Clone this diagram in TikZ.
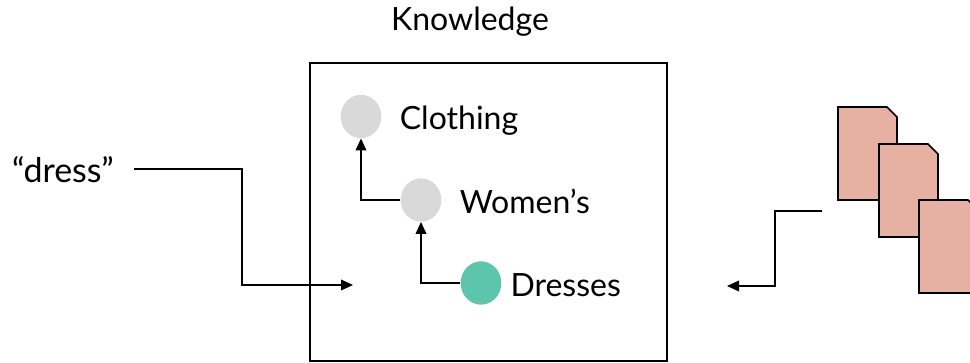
\documentclass[tikz,border=0pt]{standalone}
\usepackage{fontspec}
\setmainfont{Lato}
\usepackage{xcolor}
\usetikzlibrary{shapes.geometric, arrows.meta, positioning}
\definecolor{docpink}{HTML}{E6B0A3}
\definecolor{leafgreen}{HTML}{5DC5AB}
\definecolor{nodegray}{HTML}{D9D9D9}

\begin{document}
\begin{tikzpicture}[
    x=0.75pt, y=-0.75pt,
    % Style for the category circles
    catnode/.style={
      ellipse,
      fill=nodegray,
      inner sep=0pt,
      minimum width=30.5pt,
      minimum height=32.5pt
    },
    % Style for the texts
    labeltext/.style={
      inner sep=0pt,
      text height=20pt,
      text depth=0pt,
      font=\fontsize{24}{28}\selectfont
    },
    % Style for the arrows
    flowline/.style={
      -{Triangle[length=9pt,width=8pt]},
      line width=1.1pt
    },
    docsheet/.style={
      draw=black,
      fill=docpink,
      line width=1.3pt,
      line join=miter
    }
  ]
  \clip (0,0) rectangle (970,363);

  % --- KNOWLEDGE BOX ---
  \node[labeltext] (knowledge) at (470,17) {Knowledge};
  \node[draw=black, line width=1.1pt, minimum width=267.75pt, minimum height=223.5pt, inner sep=0pt] (kbox) at (488.5,212) {};

  % --- CATEGORY NODES ---
  \node[catnode] (clothing) at (361,116.5) {};
  \node[labeltext, right=13.5pt of clothing] (clothinglabel) {Clothing};

  \node[catnode] (womens) at (421,200) {};
  \node[labeltext, right=13.5pt of womens] (womenslabel) {Women’s};

  \node[catnode, fill=leafgreen] (dresses) at (481,283) {};
  \node[labeltext, right=6.5pt of dresses] (dresseslabel) {Dresses};

  % --- QUERY ---
  \node[labeltext, font=\fontsize{25.5}{28}\selectfont] (dress) at (63,169) {“dress”};
  \coordinate (dressbend) at (242,169);
  \coordinate (dressend) at (353,285);

  % --- DOCUMENTS ---
  \draw[docsheet] (838,107) -- (887,107) -- (897,117) -- (897,200) -- (838,200) -- cycle;
  \draw[docsheet] (879,144) -- (928,144) -- (938,154) -- (938,237) -- (879,237) -- cycle;
  \draw[docsheet] (919,200) -- (968,200) -- (978,210) -- (978,293) -- (919,293) -- cycle;
  \coordinate (docsstart) at (822,211);
  \coordinate (docsbend) at (775,211);
  \coordinate (docsend) at (727,286);

  % --- ARROWS ---
  \draw[flowline] (womens) -| (clothing);
  \draw[flowline] (dresses) -| (womens);
  \draw[flowline, shorten <=15pt] (dress) -- (dressbend) |- (dressend);
  \draw[flowline] (docsstart) -- (docsbend) |- (docsend);

\end{tikzpicture}
\end{document}
